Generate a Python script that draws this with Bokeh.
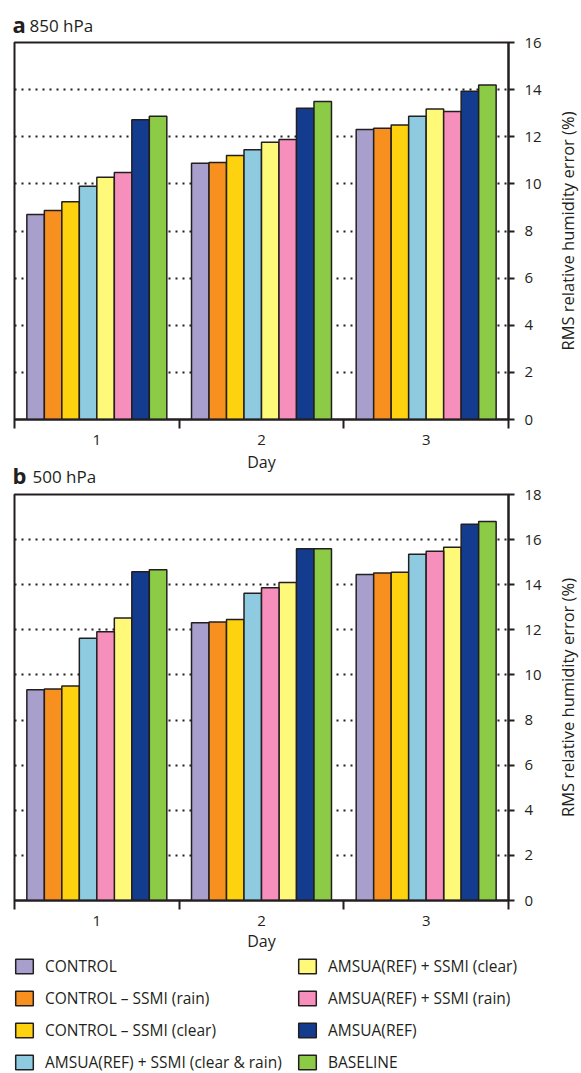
from math import pi

from bokeh.embed import file_html
from bokeh.layouts import column, row
from bokeh.models import ColumnDataSource, FixedTicker, Label, Legend, LegendItem, Range1d
from bokeh.plotting import figure
from bokeh.resources import INLINE
from bokeh.transform import dodge

# ---- data -----------------------------------------------------------------
days = [1, 2, 3]

series = [
    "CONTROL",
    "CONTROL – SSMI (rain)",
    "CONTROL – SSMI (clear)",
    "AMSUA(REF) + SSMI (clear & rain)",
    "AMSUA(REF) + SSMI (clear)",
    "AMSUA(REF) + SSMI (rain)",
    "AMSUA(REF)",
    "BASELINE",
]

colors = ["#a99fcd", "#f7901e", "#ffd20f", "#8ecbe0", "#fff97a", "#f68fbb", "#133b8e", "#8ccb46"]

# RMS relative humidity error (%) per series (same order as `series`), days 1-3
rms_850 = [
    [8.70, 10.88, 12.31],
    [8.87, 10.91, 12.36],
    [9.24, 11.20, 12.50],
    [9.90, 11.45, 12.87],
    [10.28, 11.77, 13.18],
    [10.48, 11.88, 13.07],
    [12.72, 13.21, 13.93],
    [12.87, 13.50, 14.20],
]

rms_500 = [
    [9.34, 12.31, 14.45],
    [9.38, 12.35, 14.52],
    [9.51, 12.46, 14.55],
    [11.63, 13.62, 15.35],
    [12.53, 14.10, 15.66],
    [11.92, 13.87, 15.48],
    [14.58, 15.59, 16.68],
    [14.66, 15.59, 16.80],
]

# slot of each series inside a day group
slots_850 = [0, 1, 2, 3, 4, 5, 6, 7]
slots_500 = [0, 1, 2, 3, 5, 4, 6, 7]

y_ticks_850 = [0, 2, 4, 6, 8, 10, 12, 14, 16]
y_ticks_500 = [0, 2, 4, 6, 8, 10, 12, 14, 16, 18]
day_edges = [0.5, 1.5, 2.5, 3.5]

x_title = "Day"
y_title = "RMS relative humidity error (%)"

# ---- styling --------------------------------------------------------------
FONT = "Open Sans"
INK = "#231f20"
BAR_W = 0.10625
GROUP_HALF = 4 * BAR_W
PANEL_W = 545
SIDE_W = 581 - PANEL_W


def text_canvas(width, height, y_range=None):
    """Blank figure used to hold free text; x data units are pixels."""
    f = figure(width=width, height=height,
               x_range=Range1d(0, width), y_range=y_range or Range1d(0, height),
               x_axis_location=None, y_axis_location=None,
               output_backend="svg", toolbar_location=None, min_border=0,
               background_fill_color="white", border_fill_color="white")
    f.outline_line_color = None
    f.grid.visible = False
    return f


def add_heading(f, letter, level, y_letter, y_level, level_x):
    f.add_layout(Label(x=12, y=y_letter, text=letter, text_font=FONT,
                       text_font_size="22px", text_font_style="bold",
                       text_color=INK, text_baseline="middle"))
    f.add_layout(Label(x=level_x, y=y_level, text=level, text_font=FONT,
                       text_font_size="17px", text_color=INK, text_baseline="middle"))


def side_title(panel, ymax):
    # shares the panel's vertical frame, so the title is centred on the plot box
    f = text_canvas(SIDE_W, panel.height, y_range=Range1d(0, ymax))
    f.min_border_top = panel.min_border_top
    f.min_border_bottom = panel.min_border_bottom
    f.add_layout(Label(x=22, y=ymax / 2, angle=pi / 2, text=y_title, text_font=FONT,
                       text_font_size="16.5px", text_color=INK,
                       text_align="center", text_baseline="middle"))
    return f


def make_panel(values, slots, y_ticks, top, frame_h, bottom, with_x_title):
    ymax = y_ticks[-1]
    p = figure(
        width=PANEL_W, height=top + frame_h + bottom,
        x_range=Range1d(0.5, 3.5), y_range=Range1d(0, ymax),
        y_axis_location="right",
        output_backend="svg", toolbar_location=None,
        min_border_left=14, min_border_right=PANEL_W - 14 - 494,
        min_border_top=top, min_border_bottom=bottom,
        background_fill_color="white", border_fill_color="white",
    )
    p.outline_line_color = INK
    p.outline_line_width = 2

    for i, name in enumerate(series):
        src = ColumnDataSource(dict(day=days, rms=values[i]))
        offset = -GROUP_HALF + (slots[i] + 0.5) * BAR_W
        p.vbar(x=dodge("day", offset), top="rms", bottom=0, width=BAR_W,
               source=src, fill_color=colors[i], line_color=INK, line_width=1.5)

    # dotted horizontal guides
    p.xgrid.visible = False
    p.ygrid.grid_line_color = INK
    p.ygrid.grid_line_width = 2
    p.ygrid.grid_line_dash = "2 5"

    ya = p.yaxis[0]
    ya.ticker = FixedTicker(ticks=y_ticks)
    ya.axis_line_color = INK
    ya.axis_line_width = 2
    ya.major_tick_line_color = INK
    ya.major_tick_line_width = 2
    ya.major_tick_out = 6
    ya.major_tick_in = 0
    ya.minor_tick_out = 0
    ya.minor_tick_in = 0
    ya.major_label_standoff = 10
    ya.major_label_text_font = FONT
    ya.major_label_text_font_size = "15px"
    ya.major_label_text_color = INK

    xa = p.xaxis[0]
    xa.ticker = FixedTicker(ticks=days, minor_ticks=day_edges)
    xa.axis_line_color = INK
    xa.axis_line_width = 2
    xa.major_tick_out = 0
    xa.major_tick_in = 0
    xa.minor_tick_out = 9
    xa.minor_tick_in = 0
    xa.minor_tick_line_color = INK
    xa.minor_tick_line_width = 2
    xa.major_label_standoff = 6
    xa.major_label_text_font = FONT
    xa.major_label_text_font_size = "15px"
    xa.major_label_text_color = INK
    if with_x_title:
        xa.axis_label = x_title
        xa.axis_label_standoff = 1
        xa.axis_label_text_font = FONT
        xa.axis_label_text_font_size = "16px"
        xa.axis_label_text_font_style = "normal"
        xa.axis_label_text_color = INK
    return p


# panel a: heading strip, plot + right-hand title
head_a = text_canvas(581, 33)
add_heading(head_a, "a", "850 hPa", 10, 8, 29)
pa = make_panel(rms_850, slots_850, y_ticks_850, 9, 377, 31, with_x_title=False)
side_a = side_title(pa, y_ticks_850[-1])

# strip between the panels: x title of panel a, heading of panel b
head_b = text_canvas(581, 35)
head_b.add_layout(Label(x=14 + 247, y=24, text=x_title, text_font=FONT,
                        text_font_size="16px", text_color=INK,
                        text_align="center", text_baseline="middle"))
add_heading(head_b, "b", "500 hPa", 11, 9, 32)

# panel b
pb = make_panel(rms_500, slots_500, y_ticks_500, 9, 406, 56, with_x_title=True)
side_b = side_title(pb, y_ticks_500[-1])

# legend strip: one swatch per series, two columns of four
leg = text_canvas(581, 117)
swatches = []
for i, c in enumerate(colors):
    src = ColumnDataSource(dict(day=days, rms=rms_500[i]))
    r = leg.vbar(x="day", top="rms", width=BAR_W, source=src,
                 fill_color=c, line_color=INK, line_width=1.5, visible=False)
    swatches.append(r)
legend = Legend(
    items=[LegendItem(label=name, renderers=[r]) for name, r in zip(series, swatches)],
    location=(13, 0), orientation="vertical", nrows=4,
    glyph_width=22, glyph_height=18, label_standoff=10, spacing=10, label_width=241,
    padding=0, margin=0, border_line_color=None, background_fill_alpha=0,
    label_text_font=FONT, label_text_font_size="15.5px", label_text_color=INK,
)
leg.add_layout(legend)

layout = column(head_a, row(pa, side_a), head_b, row(pb, side_b), leg)
open("out.html", "w").write(file_html(layout, INLINE))
